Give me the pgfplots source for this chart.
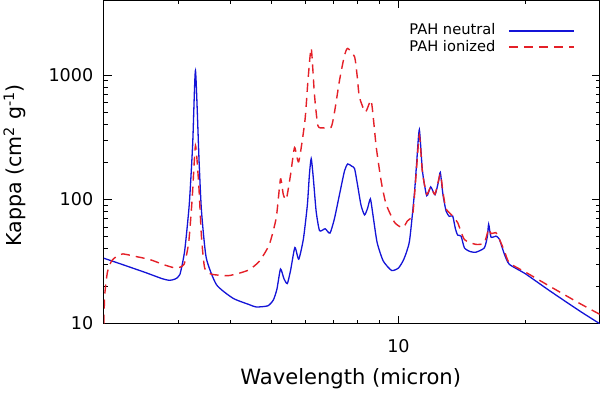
\documentclass[border=0pt]{standalone}
\usepackage{fontspec}
\setmainfont{DejaVu Sans}
\usepackage{pgfplots}
\pgfplotsset{compat=1.18}
\definecolor{pahblue}{RGB}{20, 20, 215}
\definecolor{pahred}{RGB}{228, 32, 40}

\begin{document}
\begin{tikzpicture}
\begin{axis}[
    scale only axis,
    width=494bp, height=322bp,
    xmode=log, ymode=log,
    xmin=2, xmax=30,
    ymin=10, ymax=4000,
    xtick={10}, xticklabels={10},
    minor xtick={2,3,4,5,6,7,8,9,20,30},
    ytick={10,100,1000}, yticklabels={10,100,1000},
    tick align=inside,
    major tick length=8bp, minor tick length=4bp,
    every tick/.style={black, line width=0.8bp},
    axis line style={line width=0.9bp},
    tick label style={font=\fontsize{17.5bp}{20bp}\selectfont},
    yticklabel style={xshift=-7bp},
    xticklabel style={yshift=-12bp},
    xlabel={Wavelength (micron)},
    ylabel={Kappa (cm\textsuperscript{2} g\textsuperscript{-1})},
    every axis x label/.style={at={(axis description cs:0.498,-0.189)}, anchor=base,
        font=\fontsize{21bp}{23bp}\selectfont},
    every axis y label/.style={at={(axis description cs:-0.18,0.49)}, anchor=center, rotate=90,
        font=\fontsize{20.5bp}{23bp}\selectfont},
    legend plot pos=right,
    legend cell align=left,
    legend style={draw=none, fill=none, at={(axis description cs:0.609,0.935)}, anchor=north west,
        font=\fontsize{14.6bp}{15bp}\selectfont,
        nodes={inner sep=0.5bp, text height=10.5bp, text depth=3bp},
        row sep=2bp, column sep=12bp},
]
% PAH neutral
\addplot[pahblue, line width=1.3bp, smooth, tension=0.35,
    legend image code/.code={\draw[pahblue, line width=1.3bp] (0bp,0bp) -- (65bp,0bp);}] coordinates {
(2.00,33.6) (2.2,30.1) (2.5,25.9) (2.75,23.0) (2.86,22.3) (2.95,22.8)
(3.03,24.8) (3.11,38.3) (3.19,91.4) (3.25,280) (3.30,1090) (3.365,205)
(3.41,80.7) (3.50,33.8) (3.70,20.6) (4.05,16.0) (4.43,14.2) (4.6,13.6)
(4.9,13.9) (5.05,15.5) (5.15,19) (5.25,27.5) (5.35,23) (5.45,21)
(5.55,27) (5.68,41) (5.8,33) (5.95,48) (6.08,90) (6.15,160) (6.21,213)
(6.28,150) (6.38,80) (6.5,56) (6.7,58) (6.88,53.5) (7.05,70) (7.25,110)
(7.45,170) (7.58,193) (7.75,185) (7.87,177) (8.0,130) (8.15,90) (8.31,75)
(8.45,85) (8.58,101) (8.7,75) (8.9,45) (9.2,32) (9.63,26.8) (10.0,28)
(10.3,33) (10.62,46) (10.91,111) (11.05,200) (11.21,364) (11.4,170)
(11.67,107) (11.93,126) (12.21,109) (12.45,140) (12.57,165) (12.75,110)
(12.97,80.7) (13.2,73) (13.45,73.5) (13.65,58) (13.82,51.6) (14.08,50.6)
(14.34,40.7) (14.8,38) (15.28,37.6) (15.99,40.7) (16.25,50) (16.37,63)
(16.58,49.7) (17.03,50.6) (17.35,47.9) (17.84,36.2) (18.33,30) (20,25.2)
(22.78,18.5) (26.85,12.7) (30,10)
};
\addlegendentry{PAH neutral}
% PAH ionized
\addplot[pahred, line width=1.4bp, dash pattern=on 9bp off 6bp, smooth, tension=0.35,
    legend image code/.code={\draw[pahred, line width=1.7bp, dash pattern=on 9bp off 6bp] (0bp,0.5bp) -- (65bp,0.5bp);}] coordinates {
(2.0,10) (2.01,17) (2.04,26) (2.085,31.8) (2.15,35) (2.22,36.4) (2.4,34.5)
(2.57,32.8) (2.8,29.5) (2.97,28) (3.1,30) (3.18,45) (3.24,100) (3.30,271)
(3.36,130) (3.41,50) (3.47,28) (3.6,25) (3.94,24.3) (4.2,25.5) (4.43,27.2)
(4.68,31.8) (4.94,43.4) (5.13,71.3) (5.25,146) (5.33,110) (5.42,100)
(5.55,160) (5.67,262) (5.80,201) (6.0,430) (6.1,900) (6.21,1650) (6.32,700)
(6.44,393) (6.62,377) (6.92,380) (7.05,500) (7.25,912) (7.45,1450)
(7.58,1644) (7.87,1406) (7.98,1000) (8.08,667) (8.35,505) (8.61,628)
(8.75,400) (8.86,262) (9.1,140) (9.35,91.4) (9.8,65) (10.24,59.2)
(10.5,67) (10.81,75.9) (11.0,150) (11.21,327) (11.4,165) (11.67,110)
(11.93,126) (12.21,110) (12.57,160) (12.75,115) (12.97,84) (13.45,73.5)
(13.82,65) (14.34,47.5) (15.28,43.4) (15.99,44.7) (16.37,58) (16.58,53)
(17.03,54) (17.35,48) (17.84,38.4) (18.33,30.8) (20,26) (22.78,20.1)
(26.85,14.6) (30,11.9)
};
\addlegendentry{PAH ionized}
\end{axis}
\end{tikzpicture}
\end{document}
